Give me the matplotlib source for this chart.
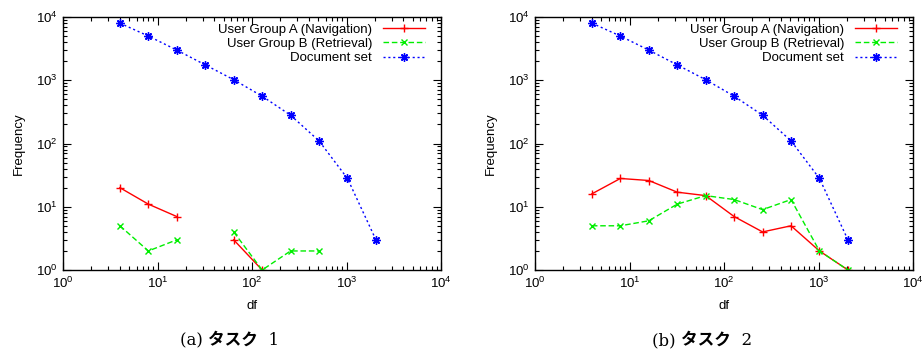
import numpy as np
import matplotlib
matplotlib.use("Agg")
import matplotlib.pyplot as plt

plt.rcParams['font.family'] = ['Liberation Sans', 'DejaVu Sans']
plt.rcParams['mathtext.fontset'] = 'custom'
plt.rcParams['mathtext.rm'] = 'Liberation Sans'
plt.rcParams['axes.linewidth'] = 1.0

df = [4, 8, 16, 32, 64, 128, 256, 512, 1024, 2048]
doc_set = [8000, 5000, 3000, 1750, 1020, 560, 280, 110, 28, 3]

# task 1 (nan = no data)
t1_group_a = [20, 11, 7, np.nan, 3, 1, np.nan, np.nan, np.nan, np.nan]
t1_group_b = [5, 2, 3, np.nan, 4, 1, 2, 2, np.nan, np.nan]

# task 2
t2_group_a = [16, 28, 26, 17, 15, 7, 4, 5, 2, 1]
t2_group_b = [5, 5, 6, 11, 15, 13, 9, 13, 2, 1]

captions = [("(a) ", "タスク", "  1"), ("(b) ", "タスク", "  2")]

fig = plt.figure(figsize=(9.24, 3.52), dpi=100)
ax1 = fig.add_axes([63/924, 1 - 270/352, 378/924, 253/352])
ax2 = fig.add_axes([535/924, 1 - 270/352, 378/924, 253/352])

fs = 9.5
for ax, a, b, cap in [(ax1, t1_group_a, t1_group_b, captions[0]),
                      (ax2, t2_group_a, t2_group_b, captions[1])]:
    ax.plot(df, a, color='#ff0000', ls='-', lw=1, marker='+', ms=6, mew=1,
            label='User Group A (Navigation)')
    ax.plot(df, b, color='#00ee00', ls=(0, (4, 2)), lw=1, marker='x', ms=5, mew=1,
            label='User Group B (Retrieval)')
    ax.plot(df, doc_set, color='#0000ff', ls=(0, (1.5, 2)), lw=1, marker=(8, 2, 0), ms=6, mew=1,
            label='Document set')
    ax.set_xscale('log')
    ax.set_yscale('log')
    ax.set_xlim(1, 1e4)
    ax.set_ylim(1, 1e4)
    ax.tick_params(which='both', direction='in', top=True, right=True, labelsize=fs, width=0.8)
    ax.tick_params(which='major', length=6, pad=4)
    ax.tick_params(which='minor', length=3)
    ax.set_xlabel('df', fontsize=fs, labelpad=7)
    ax.set_ylabel('Frequency', fontsize=fs, labelpad=8)
    ax.legend(loc='upper right', frameon=False, markerfirst=False, fontsize=fs,
              handlelength=3.2, labelspacing=0.15, borderaxespad=0.3, borderpad=0.2,
              bbox_to_anchor=(0.975, 1.0))
    # caption: serif parts normal, katakana bold
    t1 = ax.text(0.31, -0.245, cap[0], transform=ax.transAxes, ha='left', va='top',
                 fontsize=12, family='DejaVu Serif')
    t2 = ax.annotate(cap[1], xy=(1, 0), xycoords=t1, ha='left', va='bottom',
                     fontsize=12, family='Noto Sans CJK JP', weight='bold')
    ax.annotate(cap[2], xy=(1, 0), xycoords=t2, ha='left', va='bottom',
                fontsize=12, family='DejaVu Serif')

fig.savefig('out.png', dpi=100)
